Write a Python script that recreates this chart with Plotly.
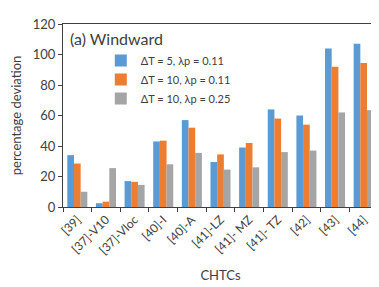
import plotly.graph_objects as go

categories = ["[39]", "[37]-V10", "[37]-Vloc", "[40]-I", "[40]-A", "[41]-LZ",
              "[41]- MZ", "[41]- TZ", "[42]", "[43]", "[44]"]
s1_name = "ΔT = 5, λp = 0.11"
s2_name = "ΔT = 10, λp = 0.11"
s3_name = "ΔT = 10, λp = 0.25"
s1 = [34, 2.5, 17, 43, 57, 29.5, 39, 64, 60, 104, 107]
s2 = [28.5, 3.5, 16.5, 43.5, 52, 34.5, 42, 58, 54, 92, 94.5]
s3 = [10, 25.5, 14.5, 28, 35.5, 24.5, 26, 36, 37, 62, 63.5]

font = "Lato, Liberation Sans, sans-serif"
fig = go.Figure()
for name, vals, col in [(s1_name, s1, "#5B9BD5"), (s2_name, s2, "#ED7D31"), (s3_name, s3, "#A5A5A5")]:
    fig.add_bar(x=categories, y=vals, name=name, marker=dict(color=col, line=dict(width=0)))

fig.update_layout(
    width=379, height=287,
    margin=dict(l=52, r=8, t=10, b=88),
    paper_bgcolor="white", plot_bgcolor="white",
    barmode="group", bargap=0.3, bargroupgap=0,
    font=dict(family=font, color="#404040"),
    showlegend=True,
    legend=dict(x=0.12, y=0.88, xanchor="left", yanchor="top",
                font=dict(size=11, color="#404040"), bgcolor="rgba(0,0,0,0)",
                itemwidth=30, tracegroupgap=2),
    annotations=[dict(text="(a) Windward", x=0.015, y=0.985, xref="paper", yref="paper",
                      xanchor="left", yanchor="top", showarrow=False,
                      font=dict(size=16, color="#404040", family=font))],
)
fig.update_xaxes(
    title=dict(text="CHTCs", font=dict(size=13), standoff=14),
    tickangle=-45, tickfont=dict(size=12),
    ticks="outside", tickson="boundaries", ticklen=4, tickcolor="#404040",
    showline=True, linecolor="#404040", linewidth=1, mirror=True,
)
fig.update_yaxes(
    title=dict(text="percentage deviation", font=dict(size=13), standoff=8),
    range=[0, 120], dtick=20, tickfont=dict(size=13),
    ticks="outside", ticklen=4, tickcolor="#404040",
    showgrid=False, zeroline=False,
    showline=True, linecolor="#404040", linewidth=1, mirror=True,
)
fig.write_html("out.html")
